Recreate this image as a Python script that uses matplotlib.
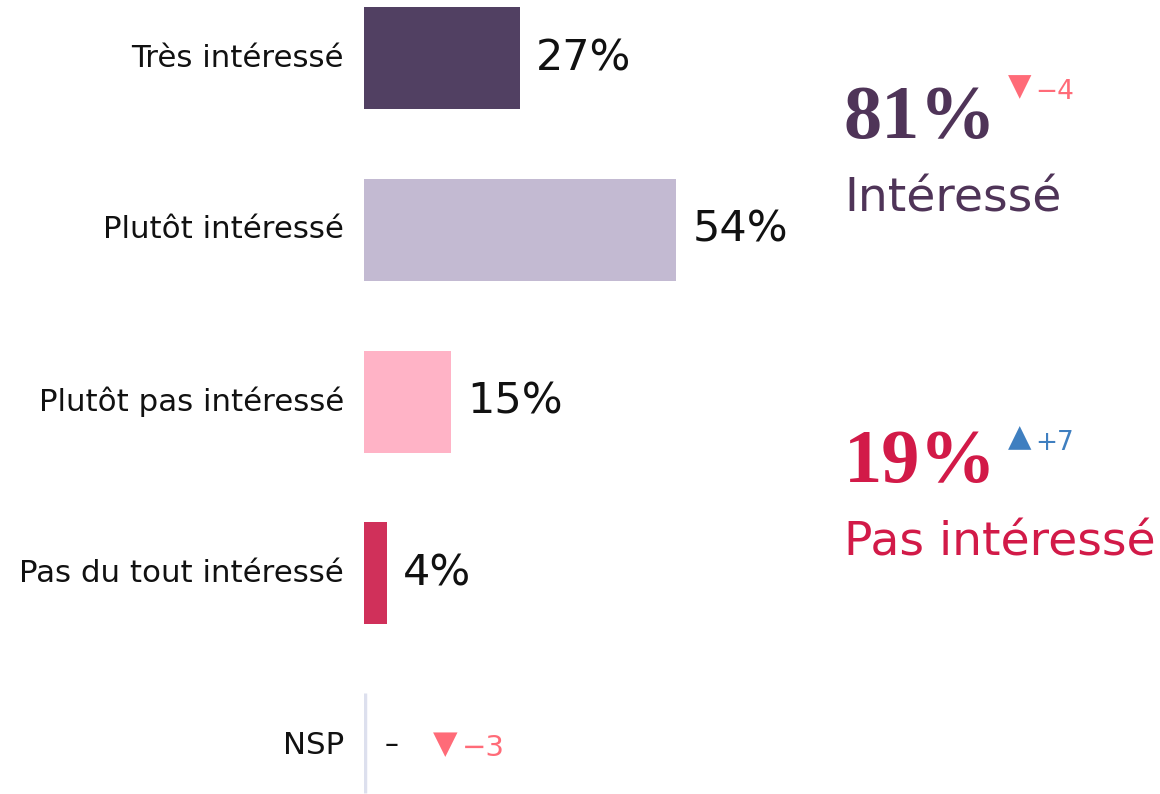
import matplotlib
matplotlib.use("Agg")
import matplotlib.pyplot as plt

categories = ["Très intéressé", "Plutôt intéressé", "Plutôt pas intéressé", "Pas du tout intéressé", "NSP"]
values = [27, 54, 15, 4, 0]
value_labels = ["27%", "54%", "15%", "4%", "–"]
bar_colors = ["#514062", "#c3bad2", "#ffb3c6", "#d0305a", "#dde0ee"]
nsp_delta = "−3"

summary_values = ["81%", "19%"]
summary_labels = ["Intéressé", "Pas intéressé"]
summary_deltas = ["−4", "+7"]
summary_colors = ["#4f3458", "#d21a48"]
delta_colors = ["#ff6b78", "#3f7fc0"]
delta_markers = ["▼", "▲"]

plt.rcParams['font.family'] = ['DejaVu Sans']
W, H = 1160, 794
fig = plt.figure(figsize=(W / 100, H / 100), dpi=100)
ax = fig.add_axes([364 / W, 0, 578 / W, 1])
ax.set_xlim(0, 100)
ax.set_ylim(4.285, -0.338)
ax.axis("off")

for i, (v, c) in enumerate(zip(values[:4], bar_colors[:4])):
    ax.barh(i, v, height=0.594, color=c, left=0)
    ax.text(v + 2.8, i, value_labels[i], va="center", ha="left", fontsize=31, color="#111111")

# NSP row
ax.vlines(0.15, 3.697, 4.279, color=bar_colors[4], lw=2.5)
ax.text(3.5, 4, value_labels[4], va="center", ha="left", fontsize=20, color="#111111")
ax.text(14.0, 4.0, "▼", va="center", ha="center", fontsize=23, color=delta_colors[0])
ax.text(16.9, 4.02, nsp_delta, va="center", ha="left", fontsize=21, color=delta_colors[0])

for i, cat in enumerate(categories):
    ax.text(-3.5, i, cat, va="center", ha="right", fontsize=22.2, color="#111111")

def fx(px):
    return px / W

def fy(py):
    return 1 - py / H

big_base = [138, 482]
lab_base = [211, 555]
delta_base = [99, 450]
tri_center = [87, 438]
for k in range(2):
    fig.text(fx(844), fy(big_base[k]), summary_values[k], fontsize=55, color=summary_colors[k],
             family="Liberation Serif", weight="bold", va="baseline", ha="left")
    fig.text(fx(1020), fy(tri_center[k]), delta_markers[k], fontsize=22, color=delta_colors[k],
             va="center", ha="center")
    fig.text(fx(1035), fy(delta_base[k]), summary_deltas[k], fontsize=19, color=delta_colors[k],
             va="baseline", ha="left")
    fig.text(fx(844), fy(lab_base[k]), summary_labels[k], fontsize=34, color=summary_colors[k],
             va="baseline", ha="left")

fig.savefig("out.png", dpi=100, facecolor="white")
